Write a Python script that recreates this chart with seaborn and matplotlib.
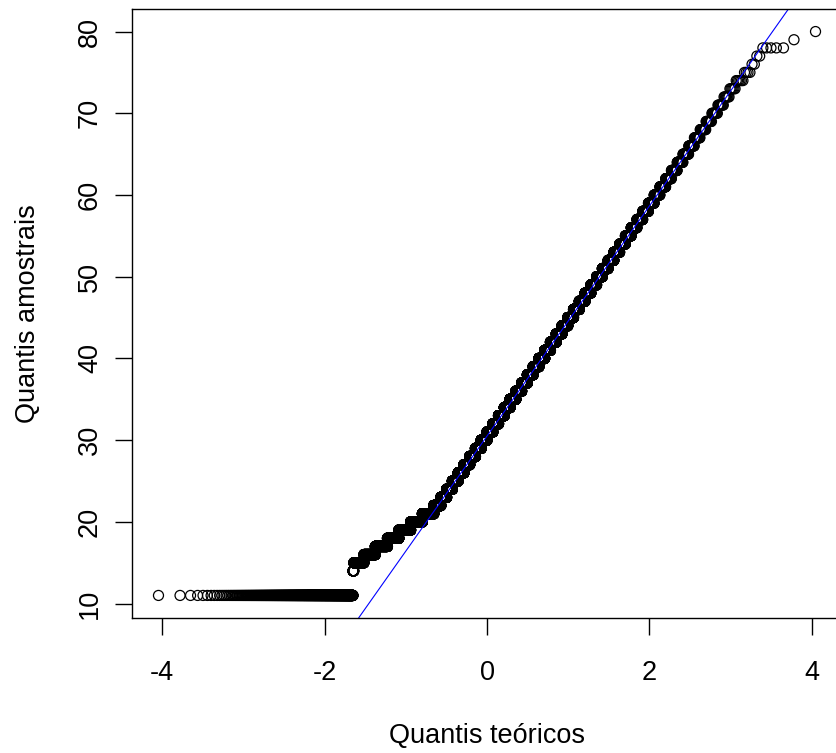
import matplotlib
matplotlib.use("Agg")
import matplotlib.pyplot as plt
import seaborn as sns
import numpy as np
import pandas as pd
from statistics import NormalDist

# ---- data: integer sample values and how many times each occurs ----
sample_values = [11, 14, 15, 16, 17, 18, 19, 20, 21, 22,
                 23, 24, 25, 26, 27, 28, 29, 30, 31, 32,
                 33, 34, 35, 36, 37, 38, 39, 40, 41, 42,
                 43, 44, 45, 46, 47, 48, 49, 50, 51, 52,
                 53, 54, 55, 56, 57, 58, 59, 60, 61, 62,
                 63, 64, 65, 66, 67, 68, 69, 70, 71, 72,
                 73, 74, 75, 76, 77, 78, 79, 80]
sample_counts = [940, 20, 273, 374, 488, 545, 658, 754, 816, 547,
                 467, 484, 499, 512, 522, 530, 535, 538, 538, 535,
                 530, 522, 512, 499, 484, 467, 449, 429, 408, 386,
                 363, 340, 317, 294, 271, 249, 227, 206, 187, 168,
                 150, 134, 119, 104, 92, 80, 69, 60, 52, 44,
                 38, 32, 27, 22, 19, 16, 13, 11, 9, 7,
                 6, 6, 4, 2, 2, 5, 1, 1]

x_ticks = [-4, -2, 0, 2, 4]
y_ticks = [10, 20, 30, 40, 50, 60, 70, 80]
x_label = "Quantis teóricos"
y_label = "Quantis amostrais"

# ---- build the normal QQ data (R: qqnorm / qqline) ----
sample = np.sort(np.repeat(sample_values, sample_counts)).astype(float)
n = len(sample)
nd = NormalDist()
probs = (np.arange(1, n + 1) - 0.5) / n
theo = np.array([nd.inv_cdf(p) for p in probs])
df = pd.DataFrame({"theo": theo, "sample": sample})

q = np.quantile(sample, [0.25, 0.75])
xq = np.array([nd.inv_cdf(0.25), nd.inv_cdf(0.75)])
slope = (q[1] - q[0]) / (xq[1] - xq[0])
intercept = q[0] - slope * xq[0]

# ---- style ----
sns.set_theme(style="white")
plt.rcParams["font.family"] = ["Liberation Sans", "DejaVu Sans"]
plt.rcParams["axes.unicode_minus"] = False

W, H = 836, 753
fig = plt.figure(figsize=(W / 100, H / 100), dpi=100)
fig.patch.set_facecolor("white")

# axes box in pixels (right edge falls outside the image, as in the reference)
left_px, right_px, top_px, bottom_px = 132.2, 841.8, 9.0, 618.0
ax = fig.add_axes([left_px / W, (H - bottom_px) / H,
                   (right_px - left_px) / W, (bottom_px - top_px) / H])
ax.set_facecolor("white")

sns.scatterplot(data=df, x="theo", y="sample", ax=ax, marker="o",
                facecolor="none", edgecolor="black", s=52, linewidth=0.9,
                legend=False)
ax.axline((0, intercept), slope=slope, color="blue", lw=0.8)

# R style axis ranges: data range + 4 %
xr = theo.max() - theo.min()
yr = sample.max() - sample.min()
ax.set_xlim(theo.min() - 0.04 * xr, theo.max() + 0.04 * xr)
ax.set_ylim(sample.min() - 0.04 * yr, sample.max() + 0.04 * yr)

ax.set_xticks(x_ticks)
ax.set_xticklabels([str(t) for t in x_ticks])
ax.set_yticks(y_ticks)
ax.set_yticklabels([str(t) for t in y_ticks], rotation=90, va="center")

fs = 19.5
ax.tick_params(axis="both", direction="out", length=12, width=1.0,
               color="black", labelsize=fs, labelcolor="black",
               bottom=True, left=True)
ax.tick_params(axis="x", pad=18)
ax.tick_params(axis="y", pad=9)

for s in ax.spines.values():
    s.set_visible(True)
    s.set_color("black")
    s.set_linewidth(1.0)

ax.set_xlabel(x_label, fontsize=fs, color="black", labelpad=27)
ax.set_ylabel(y_label, fontsize=fs, color="black", labelpad=26)
ax.grid(False)

fig.savefig("out.png", dpi=100, facecolor="white")
